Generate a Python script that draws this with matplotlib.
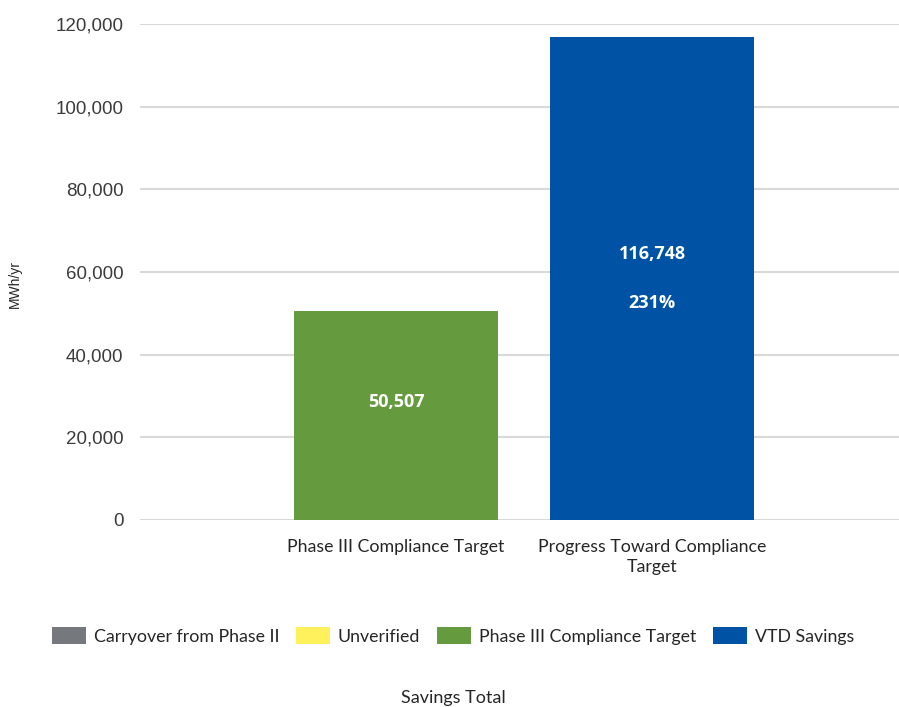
import matplotlib
matplotlib.use("Agg")
import matplotlib.pyplot as plt
from matplotlib.patches import Patch
import numpy as np

# categories and stacked series (MWh/yr)
categories = ["Phase III Compliance Target", "Progress Toward Compliance\nTarget"]
series_names = ["Carryover from Phase II", "Unverified", "Phase III Compliance Target", "VTD Savings"]
carryover = [0, 0]
unverified = [0, 0]
target = [50507, 0]
vtd_savings = [0, 116748]
series_values = [carryover, unverified, target, vtd_savings]
colors = ["#75787C", "#FFF15C", "#669A3F", "#0053A4"]
yticks = [0, 20000, 40000, 60000, 80000, 100000, 120000]

txt = "#3C3C3C"
fig = plt.figure(figsize=(8.99, 7.07), dpi=100)
ax = fig.add_axes([140/899, 1-520/707, 1-140/899, (520-24)/707])

x = np.arange(1, len(categories)+1)
bottom = np.zeros(len(categories))
for name, vals, c in zip(series_names, series_values, colors):
    ax.bar(x, vals, width=0.8, bottom=bottom, color=c, zorder=3)
    bottom += np.array(vals)

ax.set_xlim(0, 1 + (899-396)/256)
ax.set_ylim(0, 120000)
ax.set_yticks(yticks)
ax.set_yticklabels([f"{v:,}" for v in yticks], fontsize=13.5, color=txt,
                   family="Liberation Sans")
ax.set_xticks(x)
ax.set_xticklabels(categories, fontsize=12.8, color="#262626", family="Lato",
                   linespacing=1.25)
ax.tick_params(axis="y", length=0, pad=12)
ax.tick_params(axis="x", length=0, pad=14)
ax.grid(axis="y", color="#D9D9D9", linewidth=1.5, zorder=0)
for s in ax.spines.values():
    s.set_visible(False)

ax.set_ylabel("MWh/yr", fontsize=10, color="#262626", family="Liberation Sans")
ax.yaxis.set_label_coords(-118/759, 0.475)

# value labels inside bars
lab = dict(ha="center", va="center", color="white", fontsize=13,
           fontweight="bold", family="Open Sans", textcoords="offset points")
ax.annotate(f"{target[0]:,}", (x[0], target[0]/2), xytext=(0, 9.5), **lab)
ax.annotate(f"{vtd_savings[1]:,}", (x[1], vtd_savings[1]/2), xytext=(0, 18), **lab)
pct = vtd_savings[1] / target[0] * 100
ax.annotate(f"{pct:.0f}%", (x[1], vtd_savings[1]/2), xytext=(0, -17.5), **lab)

handles = [Patch(facecolor=c, edgecolor="none") for c in colors]
fig.legend(handles, series_names, loc="center", bbox_to_anchor=(453/899, 1-636/707),
           ncol=4, frameon=False, prop={"family": "Lato", "size": 12.8},
           handlelength=1.9, handleheight=1.1, handletextpad=0.45, columnspacing=0.95,
           labelcolor="#262626")
fig.text(453/899, 1-698/707, "Savings Total", ha="center", va="center",
         fontsize=13, family="Lato", color="#262626")

fig.savefig("out.png", dpi=100, facecolor="white")
